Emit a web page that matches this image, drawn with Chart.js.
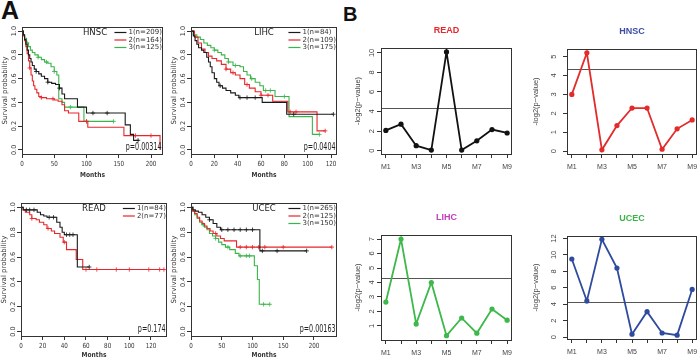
<!DOCTYPE html>
<html><head><meta charset="utf-8">
<script src="https://cdn.jsdelivr.net/npm/chart.js@4.4.0/dist/chart.umd.min.js"></script>
<style>
body{margin:0;background:#fff;width:700px;height:362px;position:relative;overflow:hidden}
canvas{position:absolute}
.lab{position:absolute;font-family:"Liberation Sans",Arial,sans-serif;font-weight:bold;color:#111;line-height:1}
</style></head><body>
<div class="lab" style="left:1px;top:-2px;font-size:25px">A</div>
<div class="lab" style="left:343px;top:4px;font-size:20px">B</div>
<canvas id="kmHnsc"></canvas><canvas id="kmLihc"></canvas>
<canvas id="kmRead"></canvas><canvas id="kmUcec"></canvas>
<canvas id="bRead"></canvas><canvas id="bHnsc"></canvas>
<canvas id="bLihc"></canvas><canvas id="bUcec"></canvas>
<script>
// ---- KM curves: event times (months) and survival after each step
const hnsc1T = [0, 2, 4, 6, 8, 10, 12, 14, 16, 19, 22, 26, 30, 35, 40, 46, 52, 58, 62, 66, 86, 100, 160, 168, 173, 181];
const hnsc1S = [1, .97, .93, .89, .84, .8, .77, .74, .71, .68, .66, .64, .62, .6, .57, .56, .55, .52, .47, .43, .36, .31, .21, .13, .08, .08];
const hnsc2T = [0, 2, 4, 6, 8, 10, 12, 14, 16, 18, 20, 23, 26, 30, 38, 50, 56, 62, 66, 72, 88, 102, 158, 214];
const hnsc2S = [1, .96, .92, .87, .81, .75, .69, .63, .58, .54, .51, .48, .45, .44, .43, .42, .41, .38, .33, .31, .24, .19, .12, 0];
const hnsc3T = [0, 2, 4, 7, 10, 13, 16, 20, 25, 30, 35, 40, 45, 50, 54, 57, 62, 66, 96, 142];
const hnsc3S = [1, .97, .94, .9, .87, .84, .82, .8, .78, .76, .74, .73, .7, .66, .63, .43, .4, .36, .24, .24];
const lihc1T = [0, 2, 3.5, 5, 6.5, 9, 11, 13.5, 15, 16.5, 18, 20, 22, 24, 27, 30, 34, 38, 41, 61, 82, 122];
const lihc1S = [1, .96, .92, .89, .86, .84, .82, .78, .74, .7, .65, .6, .57, .54, .52, .5, .48, .46, .44, .4, .3, .3];
const lihc2T = [0, 3, 6, 9, 12, 15, 18, 22, 26, 30, 34, 38, 42, 46, 50, 55, 60, 70, 83, 108, 115];
const lihc2S = [1, .95, .9, .85, .82, .79, .77, .75, .72, .68, .65, .63, .6, .55, .52, .49, .46, .41, .32, .16, .16];
const lihc3T = [0, 2, 5, 8, 11, 14, 17, 20, 23, 26, 29, 32, 36, 42, 45, 48, 51, 55, 59, 62, 72, 84, 104, 110];
const lihc3S = [1, .97, .95, .93, .9, .88, .86, .84, .82, .8, .77, .74, .71, .7, .66, .63, .6, .57, .54, .5, .45, .28, .13, .13];
const read1T = [0, 2, 15, 18, 21, 24, 33, 36, 38, 40, 52, 63];
const read1S = [1, .98, .96, .94, .93, .92, .88, .84, .8, .78, .52, .52];
const read2T = [0, 2, 4, 8, 10, 14, 17, 21, 24, 28, 31, 36, 39, 42, 51, 57, 132];
const read2S = [1, .98, .96, .94, .91, .9, .88, .86, .83, .81, .79, .76, .72, .66, .58, .5, .5];
const ucec1T = [0, 3, 7, 12, 18, 24, 30, 36, 42, 48, 112, 188];
const ucec1S = [1, .98, .97, .96, .94, .92, .9, .87, .84, .82, .65, .65];
const ucec2T = [0, 3, 6, 10, 14, 18, 22, 26, 31, 36, 42, 48, 54, 74, 229];
const ucec2S = [1, .97, .95, .92, .89, .87, .85, .83, .81, .79, .77, .75, .73, .68, .68];
const ucec3T = [0, 3, 6, 10, 14, 18, 22, 26, 30, 35, 40, 45, 50, 56, 63, 72, 78, 103, 108, 111, 128];
const ucec3S = [1, .97, .94, .91, .88, .86, .84, .82, .79, .77, .75, .72, .7, .68, .66, .63, .61, .53, .42, .22, .22];

// censoring times
const hnsc1C = [22, 40, 58, 110, 132, 180];
const hnsc2C = [12, 30, 48, 100, 176, 200];
const hnsc3C = [8, 25, 38, 50, 75, 100, 142];
const lihc1C = [25, 42, 48, 55, 88, 122];
const lihc2C = [30, 36, 48, 60, 66, 85, 90, 115];
const lihc3C = [20, 32, 38, 52, 64, 68, 80, 110];
const read1C = [5, 8, 12, 26, 30, 42, 45, 48, 63];
const read2C = [10, 25, 40, 60, 70, 88, 100, 118, 128, 132];
const ucec1C = [30, 50, 60, 70, 80, 90, 100, 116, 140, 188];
const ucec2C = [40, 80, 90, 100, 110, 120, 150, 229];
const ucec3C = [20, 40, 60, 80, 90, 95, 118, 128];

const kmTicksY = [0, 0.2, 0.4, 0.6, 0.8, 1.0];
const hnscTicksX = [0, 50, 100, 150, 200];
const lihcTicksX = [0, 20, 40, 60, 80, 100, 120];
const readTicksX = [0, 20, 40, 60, 80, 100, 120];
const ucecTicksX = [0, 50, 100, 150, 200];

// ---- panel B: -log2(p) per module
const mLabels = ['M1', 'M2', 'M3', 'M4', 'M5', 'M6', 'M7', 'M8', 'M9'];
const readB = [2.06, 2.7, 0.5, 0.05, 10.1, 0.05, 1.0, 2.15, 1.8];
const hnscB = [3.0, 5.2, 0.07, 1.35, 2.28, 2.28, 0.1, 1.18, 1.65];
const lihcB = [2.65, 7.0, 1.14, 4.0, 0.33, 1.55, 0.5, 2.17, 1.4];
const ucecB = [9.5, 4.4, 11.9, 8.4, 0.36, 3.1, 0.5, 0.24, 5.8];
const pCut = 0.05;

const BLACK = '#1a1a1a', RED = '#e8262b', GREEN = '#3bb54a', BLUE = '#2e4b9e';

function survAt(T, S, t) {
  let s = 1;
  for (let i = 0; i < T.length; i++) if (T[i] <= t) s = S[i];
  return s;
}
function kmSets(list) {
  const out = [];
  list.forEach(([T, S, C, col]) => {
    out.push({data: T.map((t, i) => ({x: t, y: S[i]})), stepped: true, borderColor: col,
      borderWidth: 1.1, pointRadius: 0, fill: false});
    out.push({data: C.map(t => ({x: t, y: survAt(T, S, t)})), showLine: false, pointStyle: 'cross',
      pointRadius: 2.2, borderColor: col, borderWidth: 0.8});
  });
  return out;
}
function bSet(vals, col) {
  return [{data: vals.map((v, i) => ({x: i + 1, y: v})), borderColor: col, backgroundColor: col,
    borderWidth: 1.8, pointRadius: 2.6, pointBorderWidth: 0, pointBackgroundColor: col}];
}

function txt(ctx, s, x, y, font, color, align, sx, rot) {
  ctx.save();
  ctx.translate(x, y);
  if (rot) ctx.rotate(-Math.PI / 2);
  ctx.scale(sx || 1, 1);
  ctx.font = font; ctx.fillStyle = color;
  ctx.textAlign = align || 'center'; ctx.textBaseline = 'middle';
  ctx.fillText(s, 0, 0);
  ctx.restore();
}

const DECO = {};
const KMF = '"DejaVu Sans", sans-serif', BF = '"Liberation Sans", Arial, sans-serif';

Chart.register({
  id: 'deco',
  beforeDatasetsDraw(chart) {
    const d = DECO[chart.canvas.id];
    if (d.kind !== 'b') return;
    const a = chart.chartArea, ctx = chart.ctx;
    const y = Math.round(chart.scales.y.getPixelForValue(-Math.log2(pCut))) + 0.5;
    ctx.save(); ctx.strokeStyle = '#555'; ctx.lineWidth = 1;
    ctx.beginPath(); ctx.moveTo(a.left, y); ctx.lineTo(a.right, y); ctx.stroke(); ctx.restore();
  },
  afterDraw(chart) {
    const d = DECO[chart.canvas.id];
    const a = chart.chartArea, ctx = chart.ctx, xs = chart.scales.x, ys = chart.scales.y;
    ctx.save(); ctx.strokeStyle = '#333'; ctx.lineWidth = 1;
    ctx.strokeRect(Math.round(a.left) + 0.5, Math.round(a.top) + 0.5, Math.round(a.right - a.left) - 1, Math.round(a.bottom - a.top));
    ctx.restore();
    const midY = (a.top + a.bottom) / 2;
    if (d.kind === 'km') {
      ys.ticks.forEach(t => txt(ctx, t.value.toFixed(1), a.left - 8, ys.getPixelForValue(t.value), '6.5px ' + KMF, '#333', 'center', 1, true));
      xs.ticks.forEach(t => txt(ctx, String(t.value), xs.getPixelForValue(t.value), a.bottom + 10, '7px ' + KMF, '#333', 'center', 0.8));
      txt(ctx, 'Survival probability', a.left - 16.5, midY, '7px ' + KMF, '#333', 'center', 1, true);
      txt(ctx, 'Months', (a.left + a.right) / 2, a.bottom + d.monthsY, 'bold 7px ' + KMF, '#333', 'center', 0.85);
      txt(ctx, d.title, a.left + 73, a.top + 5.5, '9.5px ' + KMF, '#222', 'center', 0.9);
      ctx.save(); ctx.font = '7px ' + KMF;
      const w = Math.max(...d.legend.map(l => ctx.measureText(l[0]).width));
      ctx.restore();
      const tx = a.right - 1 - w;
      d.legend.forEach((l, i) => {
        const y = a.top + 5.5 + i * 7.5;
        ctx.save(); ctx.strokeStyle = l[1]; ctx.lineWidth = 1.2;
        ctx.beginPath(); ctx.moveTo(tx - 14, y); ctx.lineTo(tx - 2, y); ctx.stroke(); ctx.restore();
        txt(ctx, l[0], tx, y, '7px ' + KMF, '#333', 'left');
      });
      txt(ctx, d.p, a.right - 1.5, a.bottom - 6.5, '11px ' + KMF, '#222', 'right', 0.58);
    } else {
      ys.ticks.forEach(t => txt(ctx, String(t.value), a.left - d.labOff, ys.getPixelForValue(t.value), '7.5px ' + BF, '#444', 'center', 1, true));
      xs.ticks.forEach(t => {
        if ((t.value - 1) % 2 === 0) txt(ctx, mLabels[t.value - 1], xs.getPixelForValue(t.value), a.bottom + 13, '7px ' + BF, '#444');
      });
      txt(ctx, '-log2(p\u2212value)', a.left - d.titleOff, midY, '7.5px ' + BF, '#444', 'center', 1, true);
      txt(ctx, d.title, (a.left + a.right) / 2, a.top - 17, 'bold 9px ' + BF, d.color);
    }
  }
});

function axis(min, max, ticks, horiz, size) {
  return {type: 'linear', min: min, max: max,
    afterBuildTicks: s => { s.ticks = ticks.map(v => ({value: v})); },
    afterFit: s => { if (horiz) s.height = size; else s.width = size; },
    ticks: {display: false},
    grid: {drawOnChartArea: false, drawTicks: true, tickLength: 4, color: '#333'},
    border: {display: false}};
}

function makeChart(id, pos, box, datasets, xr, yr, deco) {
  const c = document.getElementById(id);
  c.width = pos[2]; c.height = pos[3];
  c.style.left = pos[0] + 'px'; c.style.top = pos[1] + 'px';
  c.style.width = pos[2] + 'px'; c.style.height = pos[3] + 'px';
  DECO[id] = deco;
  return new Chart(c, {
    type: 'line',
    data: {datasets},
    options: {
      responsive: false, animation: false, events: [],
      layout: {autoPadding: false, padding: {left: 0, bottom: 0, top: box.t - pos[1], right: pos[0] + pos[2] - box.r}},
      plugins: {legend: {display: false}, tooltip: {enabled: false}},
      scales: {
        x: axis(xr[0], xr[1], xr[2], true, pos[1] + pos[3] - box.b),
        y: axis(yr[0], yr[1], yr[2], false, box.l - pos[0])
      }
    }
  });
}

const kmY = [-0.035, 1.035, kmTicksY];
makeChart('kmHnsc', [0, 20, 170, 165], {l: 22, t: 27, r: 163, b: 154},
  kmSets([[hnsc1T, hnsc1S, hnsc1C, BLACK], [hnsc2T, hnsc2S, hnsc2C, RED], [hnsc3T, hnsc3S, hnsc3C, GREEN]]),
  [0, 218.6, hnscTicksX], kmY,
  {kind: 'km', title: 'HNSC', p: 'p=0.00314', monthsY: 21,
   legend: [['1(n=209)', BLACK], ['2(n=164)', RED], ['3(n=125)', GREEN]]});
makeChart('kmLihc', [170, 20, 176, 165], {l: 191, t: 27, r: 337, b: 154},
  kmSets([[lihc1T, lihc1S, lihc1C, BLACK], [lihc2T, lihc2S, lihc2C, RED], [lihc3T, lihc3S, lihc3C, GREEN]]),
  [0, 125.1, lihcTicksX], kmY,
  {kind: 'km', title: 'LIHC', p: 'p=0.0404', monthsY: 21,
   legend: [['1(n=84)', BLACK], ['2(n=109)', RED], ['3(n=175)', GREEN]]});
makeChart('kmRead', [0, 192, 172, 170], {l: 21, t: 203, r: 167, b: 336},
  kmSets([[read1T, read1S, read1C, BLACK], [read2T, read2S, read2C, RED]]),
  [0, 134.8, readTicksX], kmY,
  {kind: 'km', title: 'READ', p: 'p=0.174', monthsY: 19,
   legend: [['1(n=84)', BLACK], ['2(n=77)', RED]]});
makeChart('kmUcec', [170, 192, 176, 170], {l: 191, t: 203, r: 337, b: 336},
  kmSets([[ucec1T, ucec1S, ucec1C, BLACK], [ucec2T, ucec2S, ucec2C, RED], [ucec3T, ucec3S, ucec3C, GREEN]]),
  [0, 237.4, ucecTicksX], kmY,
  {kind: 'km', title: 'UCEC', p: 'p=0.00163', monthsY: 19,
   legend: [['1(n=265)', BLACK], ['2(n=125)', RED], ['3(n=150)', GREEN]]});

const bX = [0.68, 9.32, [1, 2, 3, 4, 5, 6, 7, 8, 9]];
makeChart('bRead', [345, 10, 180, 170], {l: 381, t: 48, r: 512, b: 154}, bSet(readB, '#111'),
  bX, [-0.35, 10.5, [0, 2, 4, 6, 8, 10]], {kind: 'b', title: 'READ', color: '#e8262b', labOff: 9, titleOff: 23});
makeChart('bHnsc', [525, 10, 175, 170], {l: 567, t: 49, r: 697, b: 154}, bSet(hnscB, '#e32b2b'),
  bX, [-0.15, 5.4, [0, 1, 2, 3, 4, 5]], {kind: 'b', title: 'HNSC', color: '#3b4ea3', labOff: 13, titleOff: 31});
makeChart('bLihc', [345, 195, 180, 167], {l: 381, t: 235, r: 512, b: 340}, bSet(lihcB, '#3db84a'),
  bX, [0.03, 7.28, [1, 2, 3, 4, 5, 6, 7]], {kind: 'b', title: 'LIHC', color: '#c03fb8', labOff: 9, titleOff: 23});
makeChart('bUcec', [525, 195, 175, 167], {l: 567, t: 236, r: 697, b: 339}, bSet(ucecB, BLUE),
  bX, [-0.23, 12.3, [0, 2, 4, 6, 8, 10, 12]], {kind: 'b', title: 'UCEC', color: '#3bb54a', labOff: 13, titleOff: 31});
</script>
</body></html>
